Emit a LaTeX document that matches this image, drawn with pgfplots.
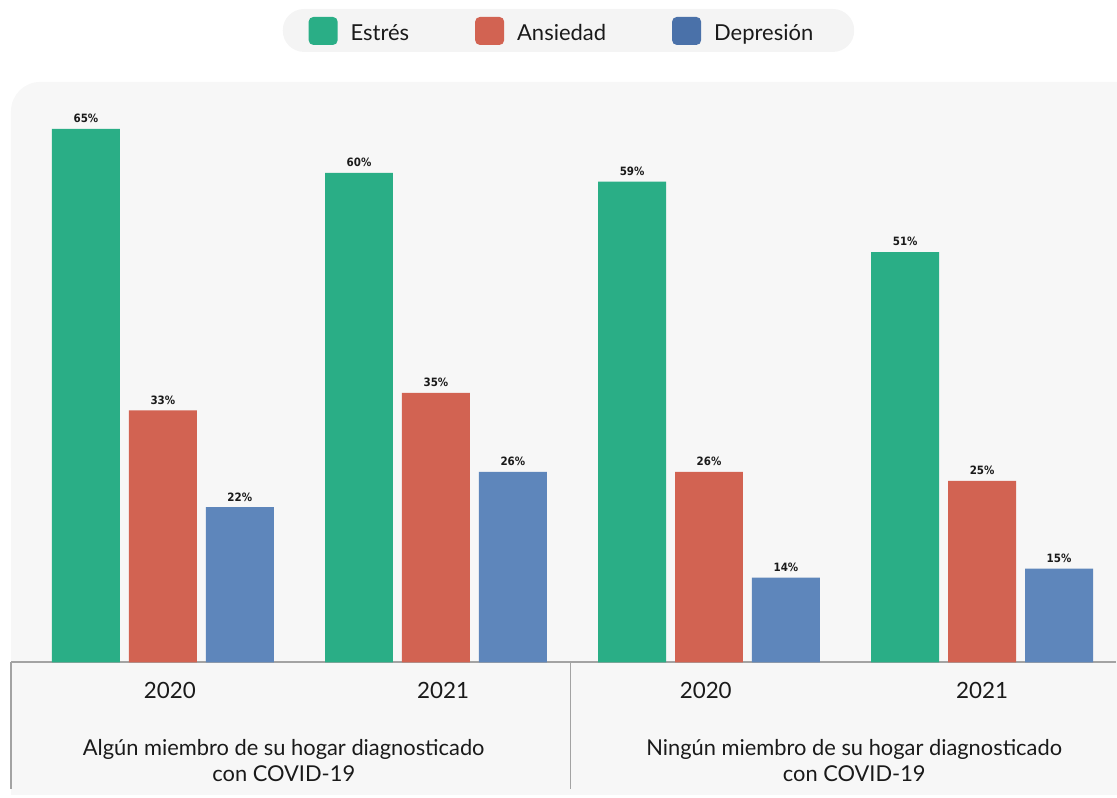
\documentclass[border=0pt]{standalone}
\usepackage{pgfplots}
\pgfplotsset{compat=1.18}
\usepackage{fontspec}
\setmainfont{Lato}
\newfontfamily\lblfont{DejaVu Sans}[FakeStretch=0.9]
\definecolor{cgreen}{HTML}{2AAE86}
\definecolor{cred}{HTML}{D26352}
\definecolor{cblue}{HTML}{5E86BB}
\definecolor{lblue}{HTML}{4A71A9}
\definecolor{panel}{HTML}{F7F7F7}
\definecolor{legbg}{HTML}{F4F4F4}
\definecolor{linegray}{HTML}{A3A3A3}
\definecolor{txt}{HTML}{1A1A1A}
\pgfplotsset{/pgfplots/ybar legend/.style={/pgfplots/legend image code/.code={\fill[##1,draw=none,rounded corners=3.5pt] (0pt,-7.5pt) rectangle (21.75pt,13.5pt);}}}
\begin{document}
\begin{tikzpicture}
\begin{scope}[x=0.75pt,y=0.75pt]
\path[use as bounding box] (0,0) rectangle (1117,798);
\fill[panel, rounded corners=22pt] (11,300) rectangle (1160,716);
\fill[panel] (11,2) rectangle (1160,400);
\fill[legbg, rounded corners=16pt] (283,746) rectangle (855,789);
\draw[linegray, line width=1.2pt] (11,135) -- (11,8);
\draw[linegray, line width=1.2pt] (571,135) -- (571,8);
\end{scope}
\begin{axis}[
  at={(8.25pt,101.25pt)}, anchor=south west,
  scale only axis, width=829.5pt, height=435.75pt,
  xmin=-0.5561, xmax=3.4903, ymin=4.35, ymax=70.35,
  enlargelimits=false,
  ybar=6.75pt, bar width=51pt,
  axis x line=bottom, axis y line=none,
  x axis line style={-, draw=linegray, line width=1.5pt},
  xtick={0.026,1.026,1.988,3.0}, xticklabels={2020,2021,2020,2021},
  major tick length=0pt,
  x tick label style={anchor=base, yshift=-27pt, inner sep=0pt, text=txt, font=\fontsize{16.8}{19}\selectfont},
  /pgf/number format/assume math mode=true,
  nodes near coords={\pgfmathprintnumber{\pgfplotspointmeta}\%},
  every node near coord/.append style={anchor=base, inner sep=0pt, yshift=4.6pt, text=txt, font=\lblfont\bfseries\fontsize{8.6}{10}\selectfont},
  legend columns=3,
  legend style={at={(0.2694,1.0878)}, anchor=west, draw=none, fill=none, inner sep=0pt, outer sep=0pt,
    nodes={inner sep=0pt, text height=12pt, text depth=3pt, text=txt, font=\fontsize{16.5}{19}\selectfont},
    /tikz/every odd column/.append style={column sep=9.75pt},
    /tikz/every even column/.append style={column sep=49.5pt}},
]
\addplot[fill=cgreen, draw=none] coordinates {(0,65) (1,60) (2,59) (3,51)};
\addplot[fill=cred, draw=none] coordinates {(0,33) (1,35) (2,26) (3,25)};
\addplot[fill=cblue, draw=none, legend image post style={fill=lblue}] coordinates {(0,22) (1,26) (2,14) (3,15)};
\legend{Estrés,Ansiedad,Depresión}
\end{axis}
\begin{scope}[x=0.75pt,y=0.75pt]
\node[align=center, text=txt, font=\fontsize{16.4}{19.5}\selectfont] at (284,37) {Algún miembro de su hogar diagnosticado\\con COVID-19};
\node[align=center, text=txt, font=\fontsize{16.4}{19.5}\selectfont] at (855,37) {Ningún miembro de su hogar diagnosticado\\con COVID-19};
\end{scope}
\end{tikzpicture}
\end{document}
